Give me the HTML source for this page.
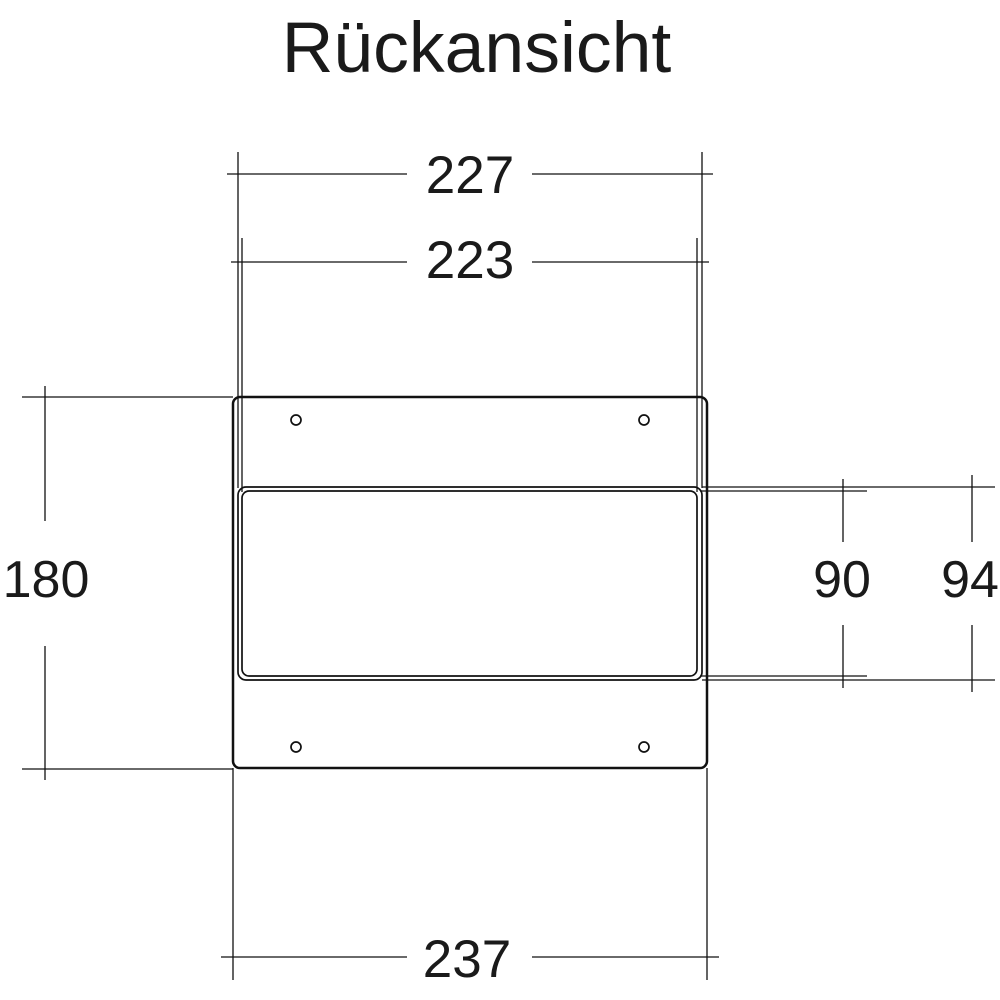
<!DOCTYPE html>
<html>
<head>
<meta charset="utf-8">
<style>
  html, body { margin: 0; padding: 0; background: #fff; }
  svg { display: block; }
  text { font-family: "Liberation Sans", Arial, sans-serif; fill: #1a1a1a; }
</style>
</head>
<body>
<svg width="1000" height="1000" viewBox="0 0 1000 1000" xmlns="http://www.w3.org/2000/svg">
  <!-- Title -->
  <text x="476.5" y="72" font-size="71.5" text-anchor="middle">Rückansicht</text>

  <g stroke="#111" fill="none">
    <!-- 227 dimension -->
    <line x1="238" y1="152" x2="238" y2="488" stroke-width="1.3"/>
    <line x1="702" y1="152" x2="702" y2="488" stroke-width="1.3"/>
    <line x1="227" y1="174" x2="407" y2="174" stroke-width="1.3"/>
    <line x1="532" y1="174" x2="713" y2="174" stroke-width="1.3"/>

    <!-- 223 dimension -->
    <line x1="242" y1="238" x2="242" y2="492" stroke-width="1.3"/>
    <line x1="697" y1="238" x2="697" y2="492" stroke-width="1.3"/>
    <line x1="231" y1="262" x2="407" y2="262" stroke-width="1.3"/>
    <line x1="532" y1="262" x2="709" y2="262" stroke-width="1.3"/>

    <!-- 180 dimension -->
    <line x1="22" y1="397" x2="233" y2="397" stroke-width="1.3"/>
    <line x1="22" y1="769" x2="233" y2="769" stroke-width="1.3"/>
    <line x1="45" y1="386" x2="45" y2="521" stroke-width="1.3"/>
    <line x1="45" y1="646" x2="45" y2="780" stroke-width="1.3"/>

    <!-- 237 dimension -->
    <line x1="233" y1="768" x2="233" y2="980" stroke-width="1.3"/>
    <line x1="707" y1="768" x2="707" y2="980" stroke-width="1.3"/>
    <line x1="221" y1="957" x2="407" y2="957" stroke-width="1.3"/>
    <line x1="532" y1="957" x2="719" y2="957" stroke-width="1.3"/>

    <!-- 90 dimension -->
    <line x1="700" y1="491" x2="867" y2="491" stroke-width="1.3"/>
    <line x1="700" y1="676" x2="867" y2="676" stroke-width="1.3"/>
    <line x1="843" y1="479" x2="843" y2="542" stroke-width="1.3"/>
    <line x1="843" y1="625" x2="843" y2="688" stroke-width="1.3"/>

    <!-- 94 dimension -->
    <line x1="702" y1="487" x2="995" y2="487" stroke-width="1.3"/>
    <line x1="702" y1="680" x2="995" y2="680" stroke-width="1.3"/>
    <line x1="972" y1="475" x2="972" y2="542" stroke-width="1.3"/>
    <line x1="972" y1="625" x2="972" y2="692" stroke-width="1.3"/>

    <!-- Outer plate -->
    <rect x="233" y="397" width="474" height="371" rx="7" ry="7" stroke-width="2.5"/>
    <!-- Cutout outer -->
    <rect x="238" y="487" width="464" height="193" rx="8" ry="8" stroke-width="1.7"/>
    <!-- Cutout inner -->
    <rect x="242" y="491" width="455" height="185" rx="7" ry="7" stroke-width="1.7"/>

    <!-- Holes -->
    <circle cx="296" cy="420" r="5" stroke-width="1.7"/>
    <circle cx="644" cy="420" r="5" stroke-width="1.7"/>
    <circle cx="296" cy="747" r="5" stroke-width="1.7"/>
    <circle cx="644" cy="747" r="5" stroke-width="1.7"/>
  </g>

  <!-- Dimension labels -->
  <text x="470" y="193" font-size="53" text-anchor="middle">227</text>
  <text x="470" y="278" font-size="53" text-anchor="middle">223</text>
  <text x="46" y="597" font-size="52" text-anchor="middle">180</text>
  <text x="842" y="597" font-size="52" text-anchor="middle">90</text>
  <text x="970" y="597" font-size="52" text-anchor="middle">94</text>
  <text x="467" y="977" font-size="53" text-anchor="middle">237</text>
</svg>
</body>
</html>
